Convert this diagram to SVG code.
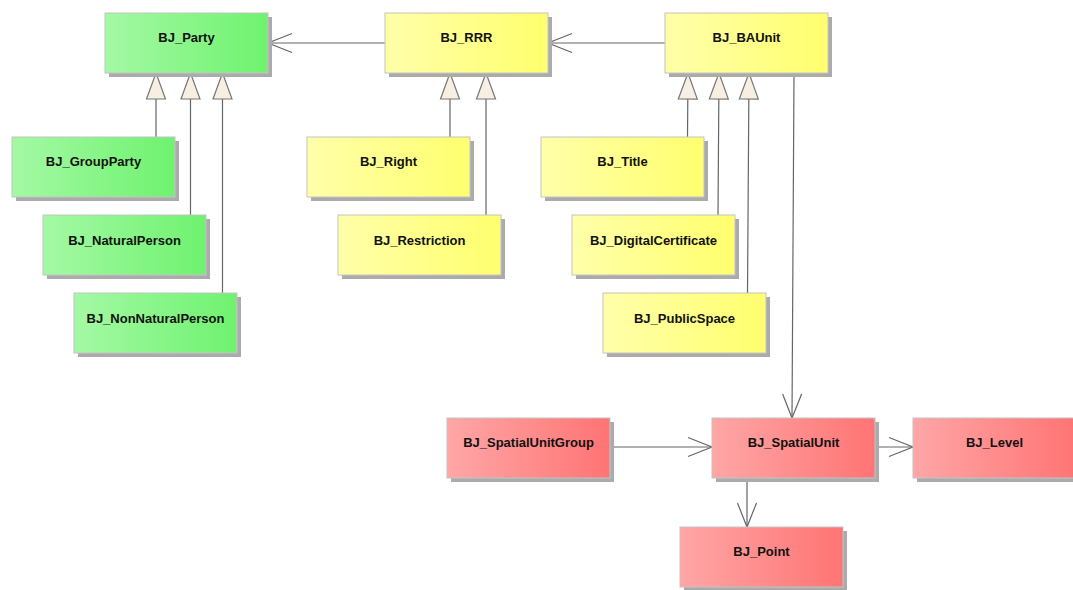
<svg xmlns="http://www.w3.org/2000/svg" width="1073" height="590" viewBox="0 0 1073 590">
  <style>
    .shadow { fill: #ababab; }
    .box { stroke: #c4c4c4; stroke-width: 1; }
    .green { fill: url(#gGreen); }
    .yellow { fill: url(#gYellow); }
    .red { fill: url(#gRed); }
    .label { font-family: "Liberation Sans", Arial, sans-serif; font-weight: bold; font-size: 13px; fill: #111; text-anchor: middle; }
    .assoc { stroke: #666; stroke-width: 1.2; fill: none; marker-end: url(#open); }
    .gen { stroke: #666; stroke-width: 1.2; fill: none; marker-end: url(#tri); }
  </style>
  <defs>
    <linearGradient id="gGreen" x1="0" y1="0" x2="1" y2="0">
      <stop offset="0" stop-color="#a4f9a4"/>
      <stop offset="1" stop-color="#6ff26f"/>
    </linearGradient>
    <linearGradient id="gYellow" x1="0" y1="0" x2="1" y2="0">
      <stop offset="0" stop-color="#ffffaa"/>
      <stop offset="1" stop-color="#ffff6e"/>
    </linearGradient>
    <linearGradient id="gRed" x1="0" y1="0" x2="1" y2="0">
      <stop offset="0" stop-color="#ffa6a6"/>
      <stop offset="1" stop-color="#ff7474"/>
    </linearGradient>
    <!-- open arrowhead for associations -->
    <marker id="open" markerUnits="userSpaceOnUse" viewBox="-26 -11 28 22" refX="0" refY="0" markerWidth="28" markerHeight="22" orient="auto" overflow="visible">
      <path d="M-24,-9.5 L0,0 L-24,9.5" fill="none" stroke="#666" stroke-width="1.2"/>
    </marker>
    <!-- hollow triangle for generalizations -->
    <marker id="tri" markerUnits="userSpaceOnUse" viewBox="-28 -11 30 22" refX="0" refY="0" markerWidth="30" markerHeight="22" orient="auto" overflow="visible">
      <path d="M0,0 L-26,-9.5 L-26,9.5 Z" fill="#f7efe2" stroke="#777" stroke-width="1.2"/>
    </marker>
  </defs>

  <rect width="1073" height="590" fill="#ffffff"/>

  <!-- connectors -->
  <g id="connectors">
    <!-- associations -->
    <line class="assoc" x1="665" y1="43" x2="548" y2="43"/>
    <line class="assoc" x1="385" y1="43" x2="268" y2="43"/>
    <line class="assoc" x1="794" y1="73" x2="792" y2="418"/>
    <line class="assoc" x1="610" y1="447" x2="712" y2="447"/>
    <line class="assoc" x1="875" y1="447" x2="913" y2="447"/>
    <line class="assoc" x1="747" y1="478" x2="747" y2="527"/>
    <!-- generalizations to BJ_Party -->
    <line class="gen" x1="156" y1="137" x2="156" y2="73"/>
    <line class="gen" x1="190.5" y1="215" x2="190.5" y2="73"/>
    <line class="gen" x1="222.5" y1="293" x2="222.5" y2="73"/>
    <!-- generalizations to BJ_RRR -->
    <line class="gen" x1="450" y1="137" x2="450" y2="73"/>
    <line class="gen" x1="486" y1="215" x2="486" y2="73"/>
    <!-- generalizations to BJ_BAUnit -->
    <line class="gen" x1="687.5" y1="137" x2="688" y2="73"/>
    <line class="gen" x1="718" y1="215" x2="719" y2="73"/>
    <line class="gen" x1="747.5" y1="293" x2="749" y2="73"/>
  </g>

  <!-- party package -->
  <g id="BJ_Party">
    <rect class="shadow" x="109" y="17" width="163" height="60"/>
    <rect class="box green" x="105" y="13" width="163" height="60"/>
    <text class="label" x="186.5" y="42">BJ_Party</text>
  </g>
  <g id="BJ_GroupParty">
    <rect class="shadow" x="16" y="141" width="163" height="60"/>
    <rect class="box green" x="12" y="137" width="163" height="60"/>
    <text class="label" x="93.5" y="166">BJ_GroupParty</text>
  </g>
  <g id="BJ_NaturalPerson">
    <rect class="shadow" x="47" y="219" width="163" height="60"/>
    <rect class="box green" x="43" y="215" width="163" height="60"/>
    <text class="label" x="124.5" y="245">BJ_NaturalPerson</text>
  </g>
  <g id="BJ_NonNaturalPerson">
    <rect class="shadow" x="78" y="297" width="163" height="60"/>
    <rect class="box green" x="74" y="293" width="163" height="60"/>
    <text class="label" x="155.5" y="323">BJ_NonNaturalPerson</text>
  </g>

  <!-- RRR package -->
  <g id="BJ_RRR">
    <rect class="shadow" x="389" y="17" width="163" height="60"/>
    <rect class="box yellow" x="385" y="13" width="163" height="60"/>
    <text class="label" x="466.5" y="42">BJ_RRR</text>
  </g>
  <g id="BJ_Right">
    <rect class="shadow" x="311" y="141" width="163" height="60"/>
    <rect class="box yellow" x="307" y="137" width="163" height="60"/>
    <text class="label" x="388.5" y="166">BJ_Right</text>
  </g>
  <g id="BJ_Restriction">
    <rect class="shadow" x="342" y="219" width="163" height="60"/>
    <rect class="box yellow" x="338" y="215" width="163" height="60"/>
    <text class="label" x="419.5" y="245">BJ_Restriction</text>
  </g>

  <!-- administrative package -->
  <g id="BJ_BAUnit">
    <rect class="shadow" x="669" y="17" width="163" height="60"/>
    <rect class="box yellow" x="665" y="13" width="163" height="60"/>
    <text class="label" x="746.5" y="42">BJ_BAUnit</text>
  </g>
  <g id="BJ_Title">
    <rect class="shadow" x="545" y="141" width="163" height="60"/>
    <rect class="box yellow" x="541" y="137" width="163" height="60"/>
    <text class="label" x="622.5" y="166">BJ_Title</text>
  </g>
  <g id="BJ_DigitalCertificate">
    <rect class="shadow" x="576" y="219" width="163" height="60"/>
    <rect class="box yellow" x="572" y="215" width="163" height="60"/>
    <text class="label" x="653.5" y="245">BJ_DigitalCertificate</text>
  </g>
  <g id="BJ_PublicSpace">
    <rect class="shadow" x="607" y="297" width="163" height="60"/>
    <rect class="box yellow" x="603" y="293" width="163" height="60"/>
    <text class="label" x="684.5" y="323">BJ_PublicSpace</text>
  </g>

  <!-- spatial package -->
  <g id="BJ_SpatialUnitGroup">
    <rect class="shadow" x="451" y="422" width="163" height="60"/>
    <rect class="box red" x="447" y="418" width="163" height="60"/>
    <text class="label" x="528.5" y="447">BJ_SpatialUnitGroup</text>
  </g>
  <g id="BJ_SpatialUnit">
    <rect class="shadow" x="716" y="422" width="163" height="60"/>
    <rect class="box red" x="712" y="418" width="163" height="60"/>
    <text class="label" x="793.5" y="447">BJ_SpatialUnit</text>
  </g>
  <g id="BJ_Level">
    <rect class="shadow" x="917" y="422" width="163" height="60"/>
    <rect class="box red" x="913" y="418" width="163" height="60"/>
    <text class="label" x="994.5" y="447">BJ_Level</text>
  </g>
  <g id="BJ_Point">
    <rect class="shadow" x="684" y="531" width="163" height="60"/>
    <rect class="box red" x="680" y="527" width="163" height="60"/>
    <text class="label" x="761.5" y="556">BJ_Point</text>
  </g>
</svg>
